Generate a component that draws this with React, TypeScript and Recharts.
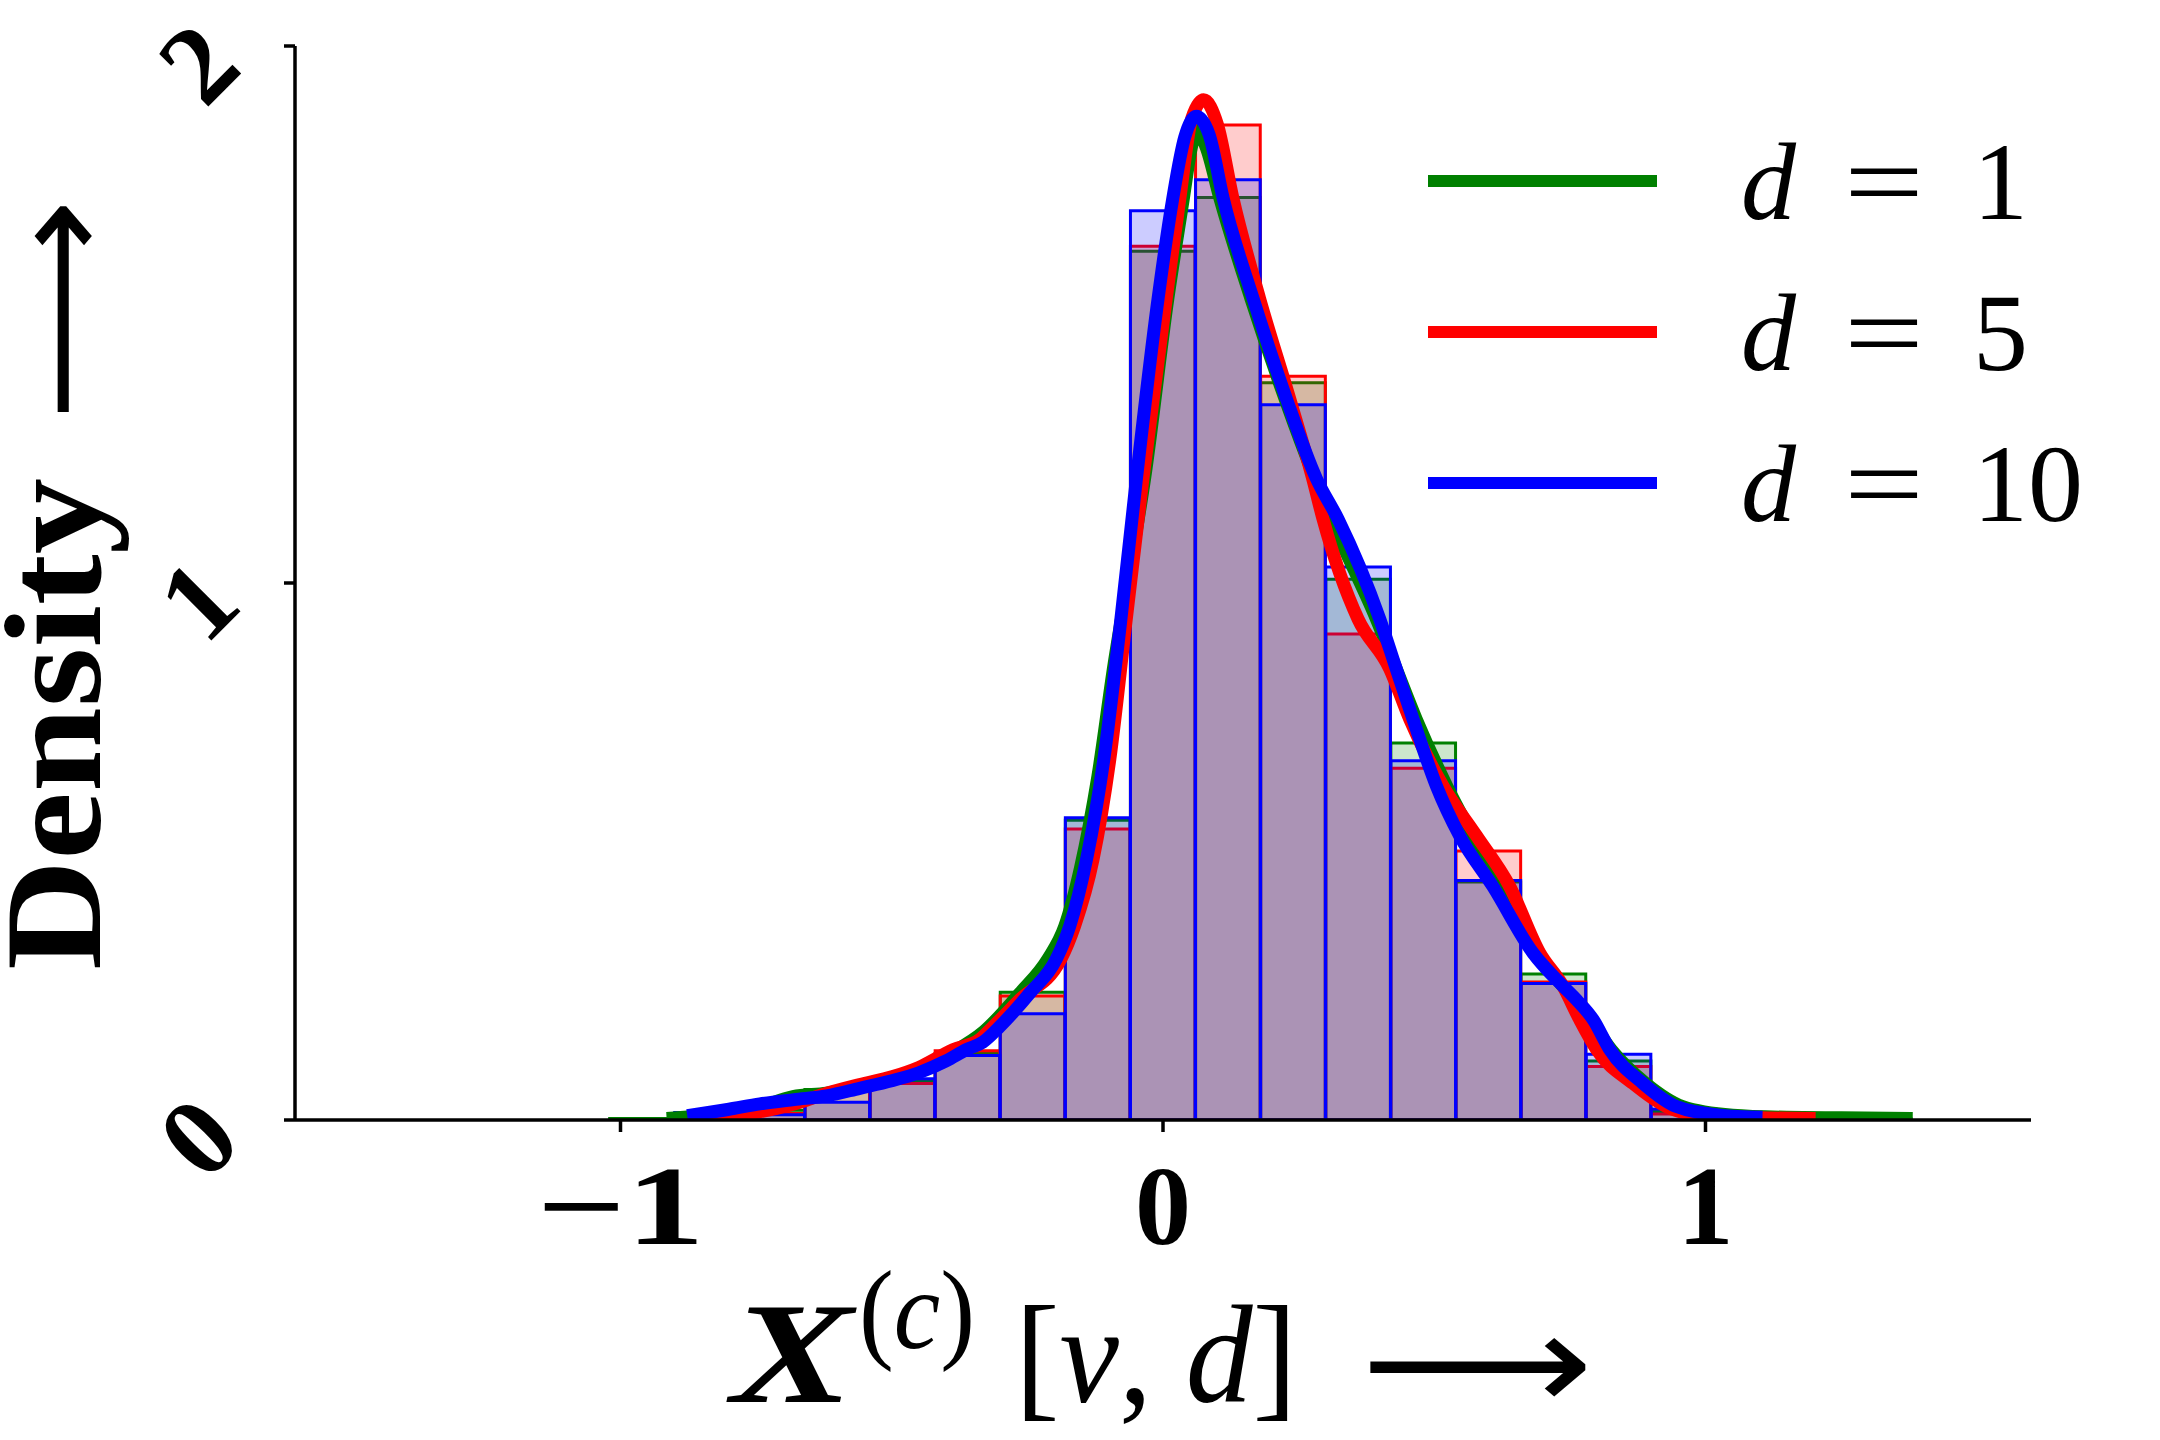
import React from 'react';
import { ComposedChart, Bar, Line, XAxis, YAxis, Legend } from 'recharts';

// histogram bins (width 0.12), centres
const binCenters = [-0.96, -0.84, -0.72, -0.6, -0.48, -0.36, -0.24, -0.12, 0.0, 0.12, 0.24, 0.36, 0.48, 0.6, 0.72, 0.84, 0.96, 1.08, 1.2, 1.32];
const histD1 = [0.003, 0.0125, 0.018, 0.057, 0.0715, 0.124, 0.238, 0.558, 1.618, 1.718, 1.373, 1.007, 0.702, 0.443, 0.272, 0.11, 0.016, 0.004, 0.002, 0.002];
const histD5 = [null, 0.008, 0.012, 0.053, 0.068, 0.129, 0.231, 0.542, 1.627, 1.853, 1.385, 0.905, 0.655, 0.501, 0.257, 0.0995, 0.011, 0.002, null, null];
const histD10 = [null, 0.014, 0.01, 0.033, 0.077, 0.12, 0.198, 0.563, 1.693, 1.751, 1.332, 1.03, 0.669, 0.446, 0.254, 0.1225, 0.0205, null, null, null];

// density curves, [x, density]
const kdeD1: [number, number][] = [
  [-0.915, 0.003], [-0.85, 0.008], [-0.75, 0.022], [-0.682, 0.0435], [-0.62, 0.05], [-0.56, 0.062],
  [-0.5, 0.078], [-0.45, 0.095], [-0.39, 0.125], [-0.33, 0.165], [-0.264, 0.236], [-0.212, 0.3],
  [-0.181, 0.361], [-0.152, 0.47], [-0.12, 0.64], [-0.09, 0.85], [-0.062, 1.02], [-0.034, 1.194],
  [0.009, 1.53], [0.0375, 1.716], [0.052, 1.81], [0.063, 1.844], [0.08, 1.81], [0.105, 1.716],
  [0.162, 1.53], [0.225, 1.343], [0.28, 1.194], [0.31, 1.119], [0.3933, 0.933], [0.43, 0.84],
  [0.467, 0.746], [0.523, 0.622], [0.571, 0.529], [0.62, 0.435], [0.685, 0.311], [0.7375, 0.249],
  [0.787, 0.187], [0.826, 0.131], [0.89, 0.068], [0.958, 0.025], [1.05, 0.009], [1.15, 0.005],
  [1.25, 0.004], [1.382, 0.003],
];
const kdeD5: [number, number][] = [
  [-0.87, 0.004], [-0.8, 0.008], [-0.743, 0.0155], [-0.68, 0.03], [-0.62, 0.0497], [-0.559, 0.066],
  [-0.498, 0.081], [-0.45, 0.098], [-0.387, 0.131], [-0.338, 0.15], [-0.313, 0.174], [-0.264, 0.224],
  [-0.188, 0.3], [-0.163, 0.361], [-0.129, 0.485], [-0.098, 0.672], [-0.068, 0.93], [-0.037, 1.194],
  [0.006, 1.53], [0.031, 1.716], [0.053, 1.865], [0.075, 1.9], [0.1, 1.855], [0.129, 1.716],
  [0.178, 1.53], [0.2336, 1.343], [0.276, 1.194], [0.295, 1.119], [0.3595, 0.933], [0.418, 0.84],
  [0.455, 0.746], [0.516, 0.622], [0.578, 0.529], [0.639, 0.435], [0.6945, 0.311], [0.7375, 0.249],
  [0.768, 0.187], [0.8, 0.13], [0.8665, 0.068], [0.928, 0.025], [0.99, 0.009], [1.1, 0.004], [1.203, 0.003],
];
const kdeD10: [number, number][] = [
  [-0.877, 0.008], [-0.8, 0.02], [-0.743, 0.03], [-0.68, 0.038], [-0.62, 0.045], [-0.559, 0.059],
  [-0.5, 0.073], [-0.45, 0.088], [-0.4, 0.11], [-0.3625, 0.131], [-0.332, 0.145], [-0.301, 0.174],
  [-0.2458, 0.236], [-0.1966, 0.3], [-0.172, 0.361], [-0.141, 0.485], [-0.109, 0.672], [-0.079, 0.92],
  [-0.049, 1.194], [-0.009, 1.53], [0.018, 1.716], [0.04, 1.83], [0.0615, 1.869], [0.085, 1.835],
  [0.111, 1.716], [0.166, 1.53], [0.2275, 1.343], [0.283, 1.194], [0.3227, 1.119], [0.3995, 0.933],
  [0.43, 0.84], [0.461, 0.746], [0.504, 0.622], [0.547, 0.529], [0.608, 0.435], [0.682, 0.311],
  [0.7375, 0.249], [0.762, 0.224], [0.793, 0.187], [0.8236, 0.131], [0.885, 0.068], [0.9465, 0.025],
  [1.026, 0.009], [1.105, 0.005],
];

const dims = ['1', '5', '10'];
const colors = ['#008000', '#ff0000', '#0000ff'];
const xTicks = [-1, 0, 1];
const yTicks = [0, 1, 2];

const X_MIN = -1.6;
const X_MAX = 1.6;
const BIN_W = 0.12;
const PLOT_W = 1736;
const BAR_PX = (BIN_W * PLOT_W) / (X_MAX - X_MIN) - 0.4;

const FONT = '"Liberation Serif", "Times New Roman", serif';
const ARROW_FONT = '"DejaVu Sans", sans-serif';

const histData = binCenters.map((x, i) => ({ x, g: histD1[i], r: histD5[i], b: histD10[i] }));
const toPts = (arr: [number, number][]) => arr.map(([x, y]) => ({ x, y }));

const YTick = (props: any) => {
  const { x, y, payload } = props;
  return (
    <g transform={`translate(${x - 86},${y + 17}) rotate(-45)`}>
      <text x={0} y={38} textAnchor="middle" fontFamily={FONT} fontWeight="bold" fontSize={112} fill="#000">
        {payload.value}
      </text>
    </g>
  );
};

const XTick = (props: any) => {
  const { x, y, payload } = props;
  const v = payload.value;
  const neg = v < 0;
  return (
    <text
      x={x}
      y={y + 112}
      textAnchor="middle"
      fontFamily={FONT}
      fontWeight="bold"
      fontSize={112}
      fill="#000"
      {...(neg ? { textLength: 168, lengthAdjust: 'spacingAndGlyphs' } : {})}
    >
      {neg ? `\u2212${Math.abs(v)}` : String(v)}
    </text>
  );
};

const XTitle = (props: any) => {
  const { viewBox } = props;
  const cx = viewBox.x + viewBox.width / 2;
  const base = viewBox.y + 282;
  return (
    <g fill="#000">
      <text x={cx - 432} y={base} fontFamily={FONT} fontWeight="bold" fontStyle="italic" fontSize={143}
        textLength={122} lengthAdjust="spacingAndGlyphs">X</text>
      <text x={cx - 304} y={base - 54} fontFamily={FONT} fontSize={112} textLength={116} lengthAdjust="spacingAndGlyphs">
        (<tspan fontStyle="italic">c</tspan>)
      </text>
      <text x={cx - 148} y={base} fontFamily={FONT} fontSize={140} textLength={282} lengthAdjust="spacingAndGlyphs">
        [<tspan fontStyle="italic">v</tspan>, <tspan fontStyle="italic">d</tspan>]
      </text>
      <text x={cx + 198} y={base + 8} fontFamily={ARROW_FONT} fontSize={137} textLength={232} lengthAdjust="spacingAndGlyphs">
        {'\u27F6'}
      </text>
    </g>
  );
};

const YTitle = (props: any) => {
  const { viewBox } = props;
  const cy = viewBox.y + viewBox.height / 2;
  return (
    <g transform={`translate(100,${cy}) rotate(-90)`} fill="#000">
      <text x={-387} y={0} fontFamily={FONT} fontWeight="bold" fontSize={137} textLength={492} lengthAdjust="spacingAndGlyphs">
        Density
      </text>
      <text x={162} y={5} fontFamily={ARROW_FONT} fontSize={134} textLength={222} lengthAdjust="spacingAndGlyphs">
        {'\u27F6'}
      </text>
    </g>
  );
};

const LegendBox = (props: any) => {
  const items = (props.payload || [])
    .filter((p: any) => dims.includes(String(p.value)))
    .sort((a: any, b: any) => dims.indexOf(String(a.value)) - dims.indexOf(String(b.value)));
  return (
    <svg width={720} height={460} style={{ display: 'block' }}>
      {items.map((p: any, i: number) => {
        const cy = 81 + i * 151;
        return (
          <g key={p.value}>
            <line x1={28} x2={257} y1={cy} y2={cy} stroke={p.color} strokeWidth={12} />
            <text x={341} y={cy + 38} fontFamily={FONT} fontStyle="italic" fontSize={110} fill="#000">d</text>
            <text x={484} y={cy + 38} textAnchor="middle" fontFamily={FONT} fontSize={110} fill="#000"
              textLength={80} lengthAdjust="spacingAndGlyphs">=</text>
            <text x={573} y={cy + 38} fontFamily={FONT} fontSize={110} fill="#000">{p.value}</text>
          </g>
        );
      })}
    </svg>
  );
};

export default function App() {
  return (
    <div style={{ position: 'absolute', left: 0, top: 0, width: 2160, height: 1440, background: '#fff' }}>
      <ComposedChart
        width={2160}
        height={1440}
        data={histData}
        margin={{ top: 46, right: 129, bottom: 220, left: 195 }}
        barGap={0}
        barCategoryGap={0}
      >
        <XAxis
          dataKey="x"
          type="number"
          domain={[X_MIN, X_MAX]}
          allowDataOverflow
          ticks={xTicks}
          height={100}
          tickSize={12}
          tickMargin={0}
          axisLine={{ stroke: '#000', strokeWidth: 3.5 }}
          tickLine={{ stroke: '#000', strokeWidth: 3.5 }}
          tick={<XTick />}
          label={XTitle}
        />
        <XAxis xAxisId="r" dataKey="x" type="number" domain={[X_MIN, X_MAX]} allowDataOverflow hide />
        <XAxis xAxisId="b" dataKey="x" type="number" domain={[X_MIN, X_MAX]} allowDataOverflow hide />
        <XAxis xAxisId="k" dataKey="x" type="number" domain={[X_MIN, X_MAX]} allowDataOverflow hide />
        <YAxis
          type="number"
          domain={[0, 2]}
          allowDataOverflow
          ticks={yTicks}
          width={100}
          tickSize={11}
          tickMargin={0}
          axisLine={{ stroke: '#000', strokeWidth: 3.5 }}
          tickLine={{ stroke: '#000', strokeWidth: 3.5 }}
          tick={<YTick />}
          label={YTitle}
        />
        <Bar dataKey="g" fill={colors[0]} fillOpacity={0.2} stroke={colors[0]} strokeWidth={3}
          barSize={BAR_PX} legendType="none" isAnimationActive={false} />
        <Bar dataKey="r" xAxisId="r" fill={colors[1]} fillOpacity={0.2} stroke={colors[1]} strokeWidth={3}
          barSize={BAR_PX} legendType="none" isAnimationActive={false} />
        <Bar dataKey="b" xAxisId="b" fill={colors[2]} fillOpacity={0.2} stroke={colors[2]} strokeWidth={3}
          barSize={BAR_PX} legendType="none" isAnimationActive={false} />
        <Line xAxisId="k" data={toPts(kdeD1)} dataKey="y" name={dims[0]} type="monotone" stroke={colors[0]}
          strokeWidth={13} dot={false} activeDot={false} isAnimationActive={false} />
        <Line xAxisId="k" data={toPts(kdeD5)} dataKey="y" name={dims[1]} type="monotone" stroke={colors[1]}
          strokeWidth={13} dot={false} activeDot={false} isAnimationActive={false} />
        <Line xAxisId="k" data={toPts(kdeD10)} dataKey="y" name={dims[2]} type="monotone" stroke={colors[2]}
          strokeWidth={13} dot={false} activeDot={false} isAnimationActive={false} />
        <Legend
          layout="vertical"
          align="center"
          verticalAlign="middle"
          content={<LegendBox />}
          wrapperStyle={{ left: 1400, top: 100, width: 720, height: 460 }}
        />
      </ComposedChart>
    </div>
  );
}
